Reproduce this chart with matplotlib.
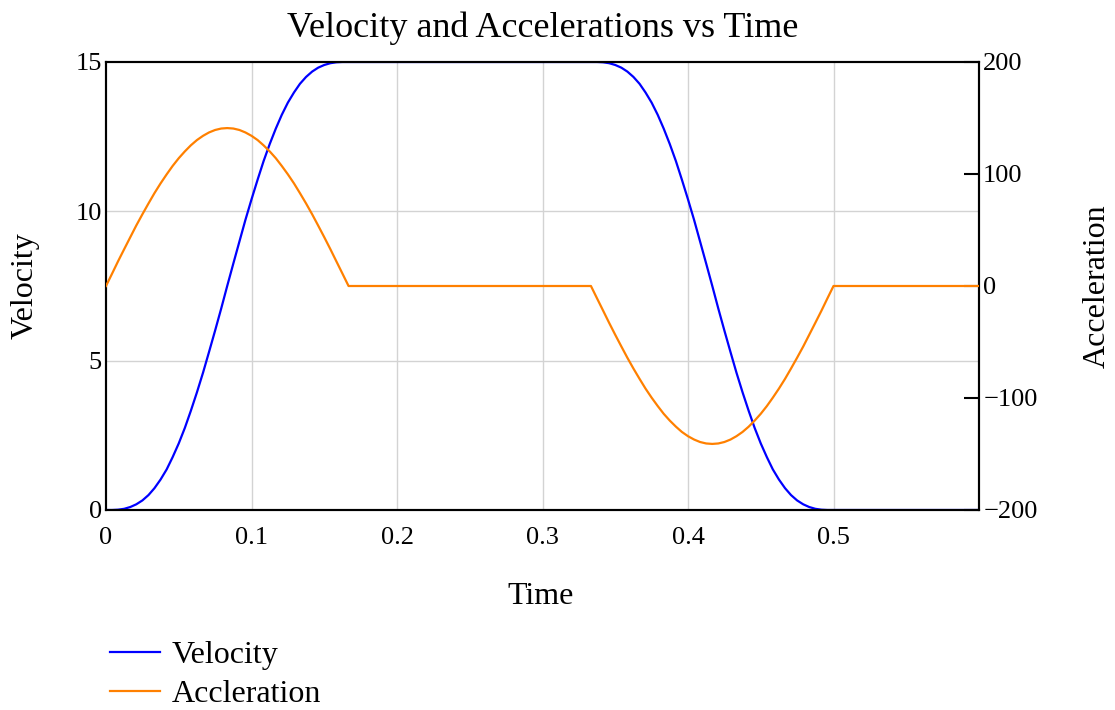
import matplotlib
matplotlib.use("Agg")
import matplotlib.pyplot as plt

time = [0, 0.0042, 0.0083, 0.0125, 0.0167, 0.0208, 0.025, 0.0292, 0.0333, 0.0375,
        0.0417, 0.0458, 0.05, 0.0542, 0.0583, 0.0625, 0.0667, 0.0708, 0.075, 0.0792,
        0.0833, 0.0875, 0.0917, 0.0958, 0.1, 0.1042, 0.1083, 0.1125, 0.1167, 0.1208,
        0.125, 0.1292, 0.1333, 0.1375, 0.1417, 0.1458, 0.15, 0.1542, 0.1583, 0.1625,
        0.1667,
        0.25,
        0.3333, 0.3375, 0.3417, 0.3458, 0.35, 0.3542, 0.3583, 0.3625, 0.3667, 0.3708,
        0.375, 0.3792, 0.3833, 0.3875, 0.3917, 0.3958, 0.4, 0.4042, 0.4083, 0.4125,
        0.4167, 0.4208, 0.425, 0.4292, 0.4333, 0.4375, 0.4417, 0.4458, 0.45, 0.4542,
        0.4583, 0.4625, 0.4667, 0.4708, 0.475, 0.4792, 0.4833, 0.4875, 0.4917, 0.4958,
        0.5,
        0.55, 0.6]

velocity = [0, 0.00, 0.01, 0.04, 0.10, 0.19, 0.32, 0.50, 0.73, 1.02,
            1.36, 1.77, 2.23, 2.75, 3.32, 3.94, 4.60, 5.29, 6.01, 6.75,
            7.5, 8.25, 8.99, 9.71, 10.40, 11.06, 11.68, 12.25, 12.77, 13.23,
            13.64, 13.98, 14.27, 14.50, 14.68, 14.81, 14.90, 14.96, 14.99, 15.00,
            15,
            15,
            15, 15.00, 14.99, 14.96, 14.90, 14.81, 14.68, 14.50, 14.27, 13.98,
            13.64, 13.23, 12.77, 12.25, 11.68, 11.06, 10.40, 9.71, 8.99, 8.25,
            7.5, 6.75, 6.01, 5.29, 4.60, 3.94, 3.32, 2.75, 2.23, 1.77,
            1.36, 1.02, 0.73, 0.50, 0.32, 0.19, 0.10, 0.04, 0.01, 0.00,
            0,
            0, 0]

acceleration = [0, 11.1, 22.1, 32.9, 43.6, 54.0, 64.0, 73.7, 82.9, 91.6,
                99.7, 107.2, 114.1, 120.2, 125.6, 130.3, 134.1, 137.1, 139.3, 140.6,
                141, 140.6, 139.3, 137.1, 134.1, 130.3, 125.6, 120.2, 114.1, 107.2,
                99.7, 91.6, 82.9, 73.7, 64.0, 54.0, 43.6, 32.9, 22.1, 11.1,
                0,
                0,
                0, -11.1, -22.1, -32.9, -43.6, -54.0, -64.0, -73.7, -82.9, -91.6,
                -99.7, -107.2, -114.1, -120.2, -125.6, -130.3, -134.1, -137.1, -139.3, -140.6,
                -141, -140.6, -139.3, -137.1, -134.1, -130.3, -125.6, -120.2, -114.1, -107.2,
                -99.7, -91.6, -82.9, -73.7, -64.0, -54.0, -43.6, -32.9, -22.1, -11.1,
                0,
                0, 0]

x_ticks = [0, 0.1, 0.2, 0.3, 0.4, 0.5]
x_labels = ["0", "0.1", "0.2", "0.3", "0.4", "0.5"]
v_ticks = [0, 5, 10, 15]
a_ticks = [-200, -100, 0, 100, 200]

plt.rcParams['font.family'] = ['Liberation Serif', 'DejaVu Serif']

fig = plt.figure(figsize=(11.15, 7.1), dpi=100)
ax = fig.add_axes([106/1115, 1 - 510/710, (979-106)/1115, (510-62)/710])
ax2 = ax.twinx()

grid_c = '#d3d3d3'
ax.set_xlim(0, 0.6)
ax.set_ylim(0, 15)
ax.set_xticks(x_ticks)
ax.set_xticklabels(x_labels)
ax.set_yticks(v_ticks)
for xt in x_ticks[1:]:
    ax.axvline(xt, color=grid_c, lw=1, zorder=0)
for yt in v_ticks[1:-1]:
    ax.axhline(yt, color=grid_c, lw=1, zorder=0)

ax.tick_params(axis='both', length=0, labelsize=19)
ax.tick_params(axis='x', pad=12)
ax.tick_params(axis='y', pad=3)

ax2.set_ylim(-200, 200)
ax2.set_yticks(a_ticks)
ax2.tick_params(axis='y', direction='in', length=11, width=1.5, labelsize=19, pad=3)

l1, = ax.plot(time, velocity, color='#0000ff', lw=1.6, label='Velocity', zorder=3)
l2, = ax2.plot(time, acceleration, color='#ff8000', lw=1.6, label='Accleration', zorder=3)

for a in (ax, ax2):
    for s in a.spines.values():
        s.set_linewidth(1.5)
        s.set_color('black')

ax.set_title('Velocity and Accelerations vs Time', fontsize=26, pad=18)
ax.set_xlabel('Time', fontsize=23)
ax.xaxis.set_label_coords((541-106)/873, -(596-510)/448)
ax.set_ylabel('Velocity', fontsize=23)
ax.yaxis.set_label_coords((25-106)/873, 0.5)
ax2.set_ylabel('Acceleration', fontsize=23, rotation=90)
ax2.yaxis.set_label_coords((1097-106)/873, 0.5)
ax.xaxis.label.set_va('center')
ax.yaxis.label.set_va('center')
ax2.yaxis.label.set_va('center')

fig.legend(handles=[l1, l2], loc='upper left', bbox_to_anchor=(110/1115, 1 - 641/710),
           frameon=False, fontsize=23, handlelength=1.56, handletextpad=0.38,
           labelspacing=0.3, borderpad=0, borderaxespad=0)

fig.savefig('out.png', dpi=100)
